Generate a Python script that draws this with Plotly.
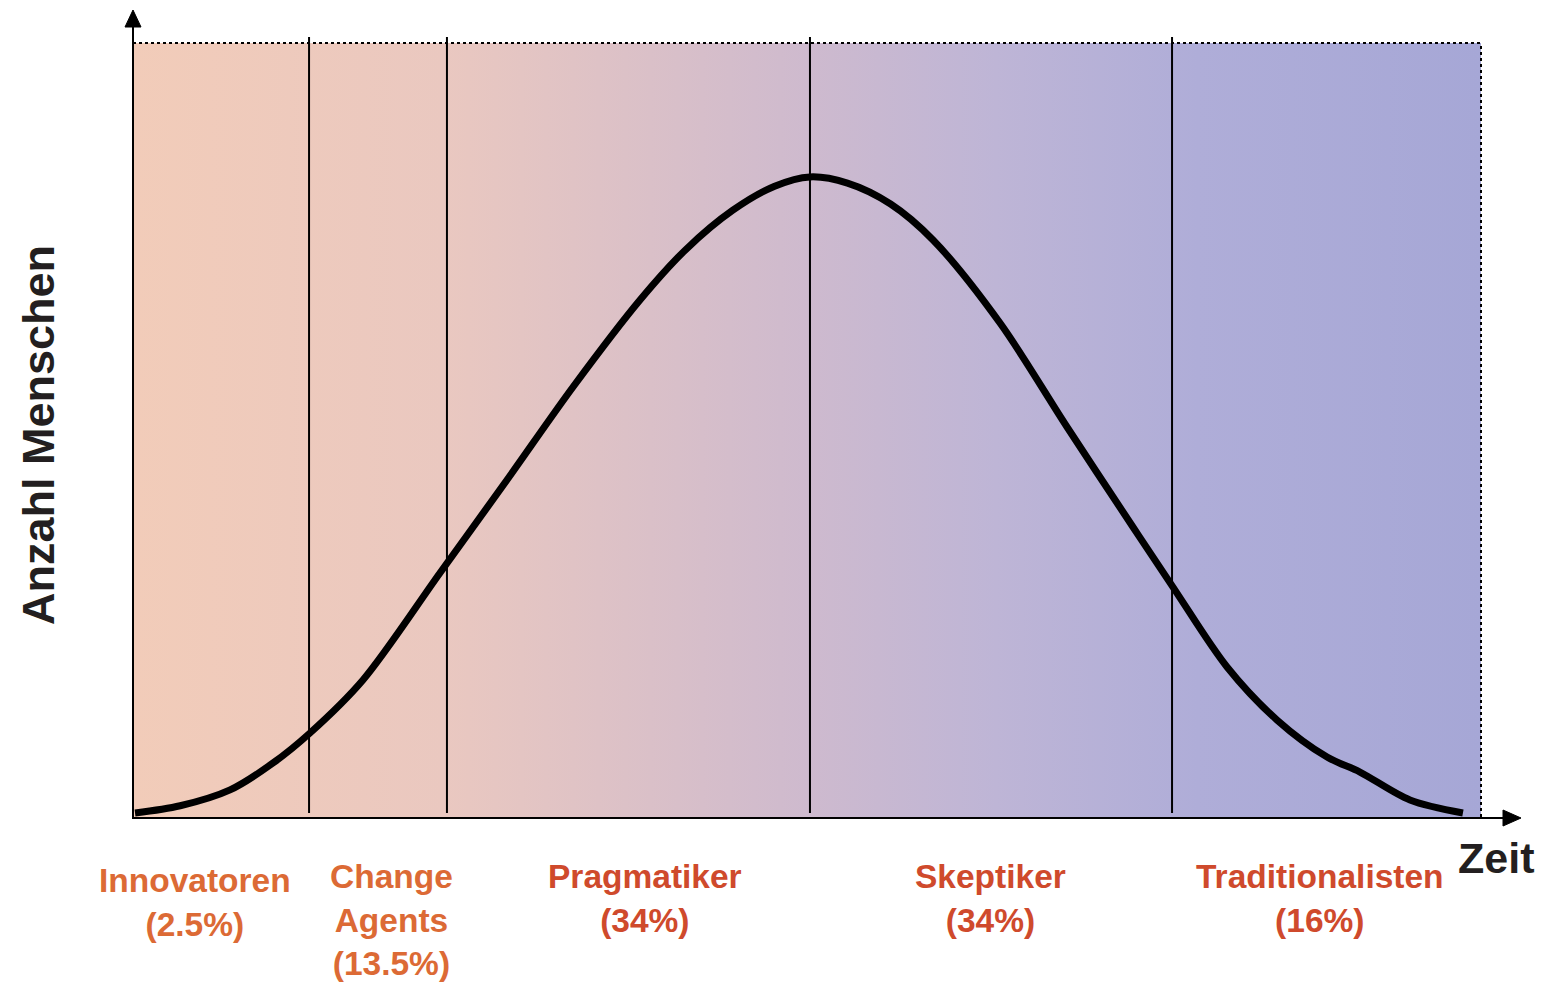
import plotly.graph_objects as go

# ---------------- data ----------------
curve_x = [0.15, 3.5, 7.2, 10.39, 13.13, 17.06, 22.77, 27.74, 32.64, 37.61, 41.0,
           44.5, 47.6, 50.22, 53.0, 56.2, 59.35, 64.32, 69.29, 74.18, 77.15, 81.16,
           84.87, 88.58, 91.02, 94.73, 98.66]
curve_y = [0.52, 1.45, 3.5, 6.98, 10.85, 17.70, 31.52, 43.54, 55.56, 66.80, 73.3,
           78.4, 81.5, 82.70, 81.9, 79.2, 74.55, 63.82, 50.39, 37.47, 29.7, 19.38,
           12.53, 7.75, 5.81, 2.20, 0.52]

boundaries = [13.06, 23.29, 50.22, 77.08]

group_labels = ["Innovatoren<br>(2.5%)", "Change<br>Agents<br>(13.5%)",
                "Pragmatiker<br>(34%)", "Skeptiker<br>(34%)",
                "Traditionalisten<br>(16%)"]
group_label_x = [4.6, 19.21, 37.98, 63.58, 88.06]
group_colors = ["#DC6A35", "#DC6A35", "#CF4A2C", "#CF4A2C", "#CF4A2C"]

x_title = "Zeit"
y_title = "Anzahl Menschen"

# ---------------- figure ----------------
W, H = 1545, 982
L, R, T, B = 133, 64, 43, 165
pw, ph = W - L - R, H - T - B

def px_x(p):  # pixel -> paper x
    return (p - L) / pw

def px_y(p):  # pixel -> paper y
    return (H - B - p) / ph

fig = go.Figure()

# gradient background
fig.add_trace(go.Scatter(
    x=[0, 100, 100, 0, 0], y=[0, 0, 100, 100, 0],
    mode="lines", line=dict(width=0), fill="toself",
    fillgradient=dict(type="horizontal", colorscale=[
        [0.0, "#F2CCB9"], [0.23, "#EAC8C0"], [0.5, "#CEBACE"],
        [0.64, "#BEB5D6"], [0.79, "#AFADD8"], [1.0, "#A6A7D6"]]),
    hoverinfo="skip", showlegend=False))

# bell curve
fig.add_trace(go.Scatter(
    x=curve_x, y=curve_y, mode="lines",
    line=dict(color="black", width=7, shape="spline", smoothing=0.9),
    hoverinfo="skip", showlegend=False, cliponaxis=False))

shapes = []
# vertical dividers
for b in boundaries:
    shapes.append(dict(type="line", xref="x", yref="paper", x0=b, x1=b,
                       y0=px_y(813), y1=px_y(37),
                       line=dict(color="black", width=2)))
# dotted top & right border
shapes.append(dict(type="line", xref="paper", yref="paper", x0=0, x1=1, y0=1, y1=1,
                   line=dict(color="black", width=2, dash="dot")))
shapes.append(dict(type="line", xref="paper", yref="paper", x0=1, x1=1, y0=0, y1=1,
                   line=dict(color="black", width=2, dash="dot")))
# axes lines
shapes.append(dict(type="line", xref="paper", yref="paper", x0=0, x1=0,
                   y0=px_y(818), y1=px_y(24), line=dict(color="black", width=2)))
shapes.append(dict(type="line", xref="paper", yref="paper", x0=px_x(132),
                   x1=px_x(1506), y0=px_y(818), y1=px_y(818),
                   line=dict(color="black", width=2)))
# arrow heads
yah = ("M {} {} L {} {} L {} {} Z").format(
    px_x(133), px_y(10), px_x(125), px_y(27), px_x(141), px_y(27))
xah = ("M {} {} L {} {} L {} {} Z").format(
    px_x(1521), px_y(818), px_x(1503), px_y(810), px_x(1503), px_y(826))
for p in (yah, xah):
    shapes.append(dict(type="path", xref="paper", yref="paper", path=p,
                       fillcolor="black", line=dict(color="black", width=1)))

annotations = []
for lab, lx, col in zip(group_labels, group_label_x, group_colors):
    top = 861 if lab.startswith("Innov") else 857
    annotations.append(dict(
        text=lab, x=lx / 100.0, y=px_y(top), xref="paper", yref="paper",
        xanchor="center", yanchor="top", showarrow=False, align="center",
        borderpad=0,
        font=dict(family="Liberation Sans, Arial, sans-serif", size=33.5,
                  color=col, weight="bold")))
annotations.append(dict(
    text=x_title, x=px_x(1496), y=px_y(858), xref="paper", yref="paper",
    xanchor="center", yanchor="middle", showarrow=False,
    font=dict(family="Liberation Sans, Arial, sans-serif", size=43,
              color="#231F20", weight="bold")))
annotations.append(dict(
    text=y_title, x=px_x(38), y=px_y(435), xref="paper", yref="paper",
    xanchor="center", yanchor="middle", showarrow=False, textangle=-90,
    font=dict(family="Liberation Sans, Arial, sans-serif", size=45,
              color="#231F20", weight="bold")))

fig.update_layout(
    width=W, height=H,
    margin=dict(l=L, r=R, t=T, b=B, pad=0),
    paper_bgcolor="white", plot_bgcolor="white",
    xaxis=dict(range=[0, 100], visible=False, fixedrange=True),
    yaxis=dict(range=[0, 100], visible=False, fixedrange=True),
    shapes=shapes, annotations=annotations,
    showlegend=False,
)

fig.write_html("out.html", config={"displayModeBar": False},
               post_script="document.body.style.margin='0';")
